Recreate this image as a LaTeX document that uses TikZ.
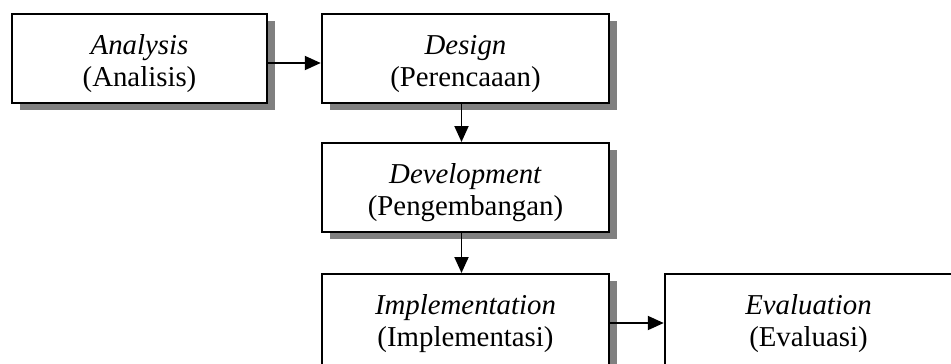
\documentclass[tikz,border=0pt]{standalone}
\usepackage{fontspec}
\setmainfont{Liberation Serif}
\usetikzlibrary{arrows.meta, shadows}

\begin{document}
\begin{tikzpicture}[
  >={Triangle[length=0.32cm, width=0.28cm]},
  every node/.style={font=\fontsize{16.4}{18.2}\selectfont},
  phasebox/.style={draw, line width=1.4pt, fill=white, align=center,
    minimum width=5.74cm, inner ysep=0pt, text height=1.44cm, text depth=0.34cm,
    drop shadow={shadow xshift=0.16cm, shadow yshift=-0.14cm, fill=black!50, opacity=1}},
  flow/.style={->, line width=1.1pt}
]
\useasboundingbox (0,0) rectangle (19.02,-7.26);
\clip (0,0) rectangle (19.02,-7.26);

% Phases
\node[phasebox, anchor=north, minimum width=5.10cm] (analysis) at (2.79,-0.26)
  {\textit{Analysis}\\(Analisis)};
\node[phasebox, anchor=north] (design) at (9.31,-0.26)
  {\textit{Design}\\(Perencaaan)};
\node[phasebox, anchor=north] (devel) at (9.31,-2.84)
  {\textit{Development}\\(Pengembangan)};
% bottom row runs past the lower edge
\node[phasebox, anchor=north, text depth=0.7cm] (impl) at (9.31,-5.46)
  {\textit{Implementation}\\(Implementasi)};
\node[phasebox, anchor=north, text depth=0.7cm] (eval) at (16.17,-5.46)
  {\textit{Evaluation}\\(Evaluasi)};

% Flow
\draw[flow] ([yshift=-1cm]analysis.north east) -- ([yshift=-1cm]design.north west);
\draw[flow] ([xshift=-0.08cm]design.south) -- ([xshift=-0.08cm]devel.north);
\draw[flow] ([xshift=-0.08cm]devel.south) -- ([xshift=-0.08cm]impl.north);
\draw[flow] ([yshift=-1cm]impl.north east) -- ([yshift=-1cm]eval.north west);

\end{tikzpicture}
\end{document}
